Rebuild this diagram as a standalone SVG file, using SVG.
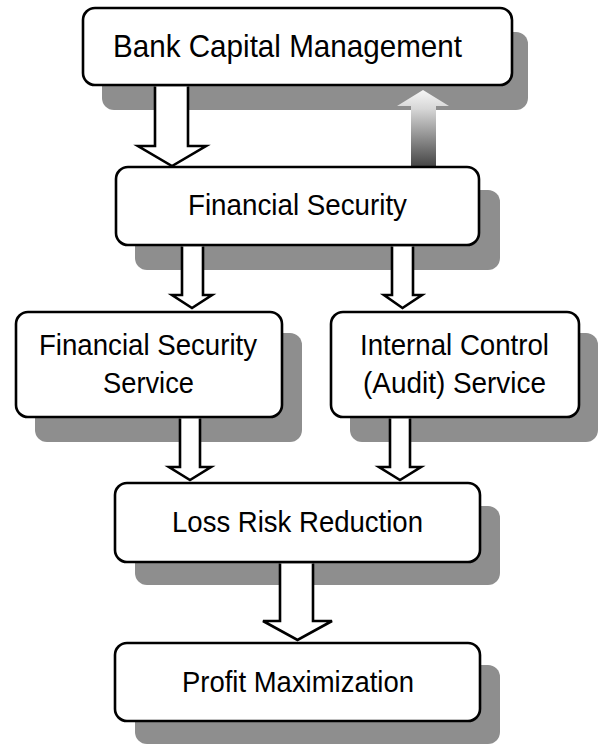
<svg xmlns="http://www.w3.org/2000/svg" width="600" height="745" viewBox="0 0 600 745">
<style>
.shadow{fill:#8e8e8e;}
.box{fill:#ffffff;stroke:#000000;stroke-width:2.6;}
.lbl{font-family:"Liberation Sans",Arial,sans-serif;font-size:30px;fill:#000000;text-anchor:middle;}
.arr{fill:#ffffff;stroke:#000000;stroke-width:2.6;stroke-linejoin:miter;}
</style>
<defs>
<linearGradient id="upgrad" x1="0" y1="0" x2="0" y2="1">
<stop offset="0" stop-color="#f6f6f6"/>
<stop offset="0.25" stop-color="#d6d6d6"/>
<stop offset="1" stop-color="#444444"/>
</linearGradient>
</defs>
<rect x="0" y="0" width="600" height="745" fill="#ffffff"/>
<g id="shadows">
<rect class="shadow" x="102" y="32" width="426" height="78" rx="12"/>
<rect class="shadow" x="135" y="190" width="365" height="80" rx="12"/>
<rect class="shadow" x="35" y="333" width="267" height="109" rx="12"/>
<rect class="shadow" x="350" y="333" width="248" height="109" rx="12"/>
<rect class="shadow" x="135" y="506" width="365" height="79" rx="12"/>
<rect class="shadow" x="135" y="665" width="365" height="79" rx="12"/>
</g>
<g id="connectors">
<path class="arr" d="M155,86.5 L155,146 L138,146 L172,166 L206,146 L188,146 L188,86.5"/>
<path d="M411,167 L411,106 L397,106 L423,90 L449,106 L436,106 L436,167 Z" fill="url(#upgrad)"/>
<path class="arr" d="M182,246.5 L182,295 L172,295 L192,308 L212,295 L203,295 L203,246.5"/>
<path class="arr" d="M392,246.5 L392,295 L384,295 L402.5,308 L422,295 L413,295 L413,246.5"/>
<path class="arr" d="M180,418.5 L180,467 L169,467 L190,480 L211,467 L200,467 L200,418.5"/>
<path class="arr" d="M390,418.5 L390,467 L379,467 L400,480 L421,467 L410,467 L410,418.5"/>
<path class="arr" d="M280,563.5 L280,621 L263,621 L297.5,640 L332,621 L313,621 L313,563.5"/>
</g>
<g id="node-bank-capital">
<rect class="box" x="83" y="8" width="429" height="77" rx="12"/>
<text class="lbl" x="287.5" y="57" style="font-size:30.5px" textLength="349" lengthAdjust="spacingAndGlyphs">Bank Capital Management</text>
</g>
<g id="node-financial-security">
<rect class="box" x="116" y="167" width="363" height="78" rx="12"/>
<text class="lbl" x="297.5" y="215" textLength="219" lengthAdjust="spacingAndGlyphs">Financial Security</text>
</g>
<g id="node-fs-service">
<rect class="box" x="16" y="312" width="266" height="105" rx="12"/>
<text class="lbl" x="148" y="355" textLength="218" lengthAdjust="spacingAndGlyphs">Financial Security</text>
<text class="lbl" x="148.5" y="393" textLength="91" lengthAdjust="spacingAndGlyphs">Service</text>
</g>
<g id="node-internal-control">
<rect class="box" x="331" y="312" width="248" height="105" rx="12"/>
<text class="lbl" x="454.5" y="355" textLength="189" lengthAdjust="spacingAndGlyphs">Internal Control</text>
<text class="lbl" x="454.5" y="393" textLength="183" lengthAdjust="spacingAndGlyphs">(Audit) Service</text>
</g>
<g id="node-loss-risk">
<rect class="box" x="115" y="483" width="365" height="79" rx="12"/>
<text class="lbl" x="297.5" y="532" textLength="251" lengthAdjust="spacingAndGlyphs">Loss Risk Reduction</text>
</g>
<g id="node-profit">
<rect class="box" x="115" y="643" width="365" height="78" rx="12"/>
<text class="lbl" x="298" y="692" textLength="232" lengthAdjust="spacingAndGlyphs">Profit Maximization</text>
</g>
</svg>
